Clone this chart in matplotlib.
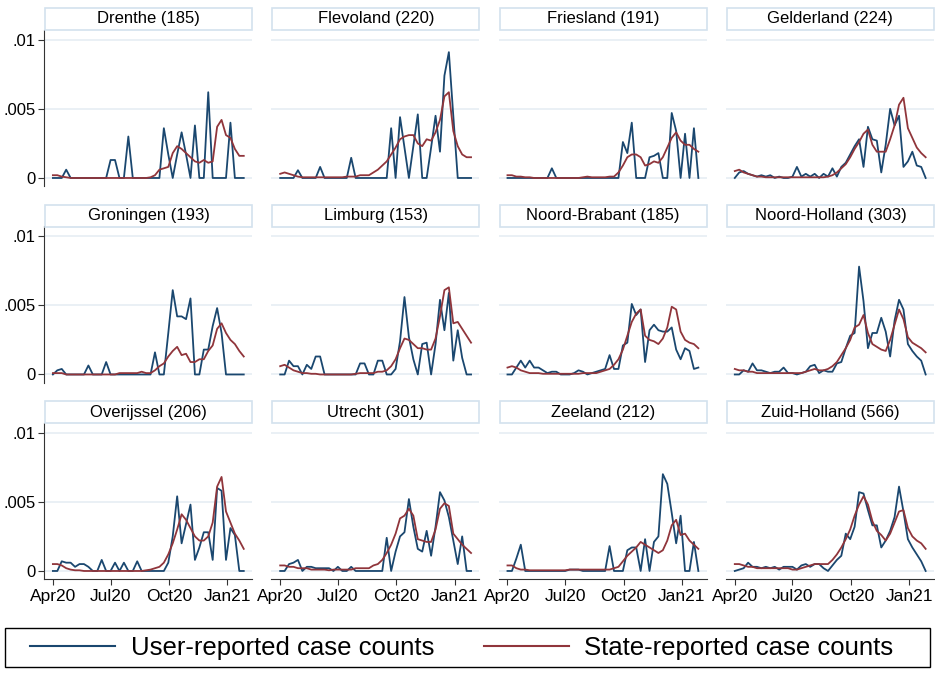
import numpy as np
import matplotlib
matplotlib.use("Agg")
import matplotlib.pyplot as plt
from matplotlib.lines import Line2D
from matplotlib.patches import Rectangle

plt.rcParams['font.family'] = ['Liberation Sans', 'DejaVu Sans']

# weekly observations, Apr 2020 - Jan 2021
weeks = np.arange(np.datetime64('2020-04-01'), np.datetime64('2020-04-01') + 44 * 7, 7)

provinces = ['Drenthe', 'Flevoland', 'Friesland', 'Gelderland',
             'Groningen', 'Limburg', 'Noord-Brabant', 'Noord-Holland',
             'Overijssel', 'Utrecht', 'Zeeland', 'Zuid-Holland']
n_users = [185, 220, 191, 224, 193, 153, 185, 303, 206, 301, 212, 566]

drenthe_user = [0, 0, 0, 0.0006, 0, 0, 0, 0, 0, 0, 0, 0, 0, 0.0013, 0.0013, 0, 0, 0.003, 0, 0,
                0, 0, 0, 0, 0, 0.0036, 0.0017, 0, 0.0017, 0.0033, 0.0017, 0, 0.0038, 0, 0, 0.0062,
                0, 0, 0, 0, 0.004, 0, 0, 0]
drenthe_state = [0.0002, 0.0002, 0.0001, 0.00005, 0, 0, 0, 0, 0, 0, 0, 0, 0, 0, 0, 0, 0, 0, 0, 0,
                 0, 0, 0.00005, 0.0002, 0.0006, 0.0007, 0.0008, 0.0018, 0.0023, 0.0021, 0.0018,
                 0.0015, 0.0012, 0.0011, 0.0013, 0.0011, 0.0012, 0.0037, 0.0042, 0.0031, 0.0029,
                 0.0021, 0.0016, 0.0016]

flevoland_user = [0, 0, 0, 0, 0.00056, 0, 0, 0, 0, 0.0008, 0, 0, 0, 0, 0, 0, 0.00146, 0, 0, 0,
                  0, 0, 0, 0, 0, 0.0036, 0, 0.0044, 0.0022, 0, 0.0023, 0.0046, 0, 0, 0.0022, 0.0045,
                  0.0019, 0.0074, 0.0091, 0.0045, 0, 0, 0, 0]
flevoland_state = [0.0003, 0.0004, 0.0003, 0.0002, 0.0001, 0.00005, 0.00005, 0.00005, 0.00005,
                   0.00005, 0.00005, 0.00005, 0.00005, 0.00005, 0.00005, 0.0001, 0.0001, 0.0001,
                   0.0002, 0.0002, 0.0002, 0.0004, 0.0006, 0.0009, 0.0012, 0.0017, 0.0022, 0.0028,
                   0.0030, 0.0031, 0.0031, 0.0025, 0.0023, 0.0028, 0.0027, 0.0033, 0.0042, 0.0059,
                   0.0062, 0.0034, 0.0023, 0.0017, 0.0015, 0.0015]

friesland_user = [0, 0, 0, 0, 0, 0, 0, 0, 0, 0, 0.0007, 0, 0, 0, 0, 0, 0, 0, 0, 0,
                  0, 0, 0, 0, 0, 0, 0.0026, 0.0018, 0.004, 0, 0, 0, 0.0015, 0.0016, 0.0018, 0,
                  0, 0.0047, 0.0034, 0, 0.0032, 0, 0.0036, 0]
friesland_state = [0.0002, 0.0002, 0.0001, 0.0001, 0.00005, 0.00005, 0, 0, 0, 0, 0, 0, 0, 0, 0,
                   0, 0, 0.00005, 0.0001, 0.00005, 0.00005, 0.00005, 0.00005, 0.0001, 0.0001,
                   0.0004, 0.0009, 0.0015, 0.0017, 0.0017, 0.0015, 0.0009, 0.0010, 0.0012, 0.0011,
                   0.0015, 0.0022, 0.0029, 0.0033, 0.0027, 0.0024, 0.0024, 0.0021, 0.0019]

gelderland_user = [0, 0.0004, 0.0005, 0.0003, 0.0002, 0.0001, 0.0002, 0.0001, 0.0002, 0, 0.0001,
                   0, 0, 0.0001, 0.0008, 0.0001, 0.0003, 0.0001, 0.0003, 0, 0.0003, 0.0001, 0.0007,
                   0.0001, 0.0008, 0.0011, 0.0017, 0.0023, 0.0028, 0.0008, 0.0037, 0.0028, 0.0027,
                   0.0004, 0.0024, 0.005, 0.0038, 0.0045, 0.0008, 0.0012, 0.0019, 0.0009, 0.0008, 0]
gelderland_state = [0.0005, 0.0006, 0.0004, 0.0003, 0.0002, 0.0001, 0.0001, 0.00005, 0.00005,
                    0.00005, 0.00005, 0.00005, 0.00005, 0.00005, 0.00005, 0.00005, 0.00005,
                    0.00005, 0.00005, 0.00005, 0.00005, 0.0001, 0.0002, 0.0004, 0.0007, 0.001,
                    0.0015, 0.0021, 0.0026, 0.0032, 0.0035, 0.0024, 0.0019, 0.0019, 0.0019, 0.0028,
                    0.0038, 0.0053, 0.0058, 0.0036, 0.0029, 0.0022, 0.0018, 0.0015]

groningen_user = [0, 0.0003, 0.0004, 0, 0, 0, 0, 0, 0.00065, 0, 0, 0, 0.0009, 0, 0, 0, 0, 0, 0, 0,
                  0, 0, 0, 0.0016, 0, 0, 0.003, 0.0061, 0.0042, 0.0042, 0.004, 0.0055, 0, 0,
                  0.0018, 0.0018, 0.0035, 0.0048, 0.003, 0, 0, 0, 0, 0]
groningen_state = [0.0001, 0.0001, 0.0001, 0, 0, 0, 0, 0, 0, 0, 0, 0, 0, 0, 0, 0.0001, 0.0001,
                   0.0001, 0.0001, 0.0001, 0.0002, 0.0001, 0.0001, 0.0003, 0.0006, 0.0008, 0.0013,
                   0.0017, 0.0020, 0.0014, 0.0015, 0.0009, 0.0009, 0.0011, 0.0011, 0.0017, 0.0021,
                   0.0033, 0.0037, 0.003, 0.0025, 0.0022, 0.0017, 0.0013]

limburg_user = [0, 0, 0.001, 0.0006, 0.0006, 0, 0.0007, 0.0004, 0.0013, 0.0013, 0, 0, 0, 0, 0, 0,
                0, 0, 0.0008, 0.0008, 0, 0, 0.001, 0.001, 0, 0, 0.0004, 0.0024, 0.0056, 0.0027,
                0.0011, 0, 0.0022, 0.0023, 0, 0.0022, 0.0054, 0.0032, 0.0059, 0.001, 0.0032,
                0.0012, 0, 0]
limburg_state = [0.0006, 0.0007, 0.0005, 0.0003, 0.0002, 0.0001, 0.0001, 0.00005, 0.00005, 0, 0,
                 0, 0, 0, 0, 0, 0, 0.00005, 0.0001, 0.0001, 0.0001, 0.0001, 0.0002, 0.0002, 0.0003,
                 0.0006, 0.0011, 0.0019, 0.0026, 0.0025, 0.0022, 0.0019, 0.0019, 0.0018, 0.0018,
                 0.0026, 0.0042, 0.0061, 0.0063, 0.0037, 0.0038, 0.0033, 0.0028, 0.0023]

noordbrabant_user = [0, 0, 0.0005, 0.001, 0.0005, 0.001, 0.0005, 0.0005, 0.0003, 0.0001, 0.0002,
                     0.0002, 0, 0, 0, 0.0001, 0.0003, 0.0002, 0, 0.0001, 0.0002, 0.0003, 0.0004,
                     0.0014, 0.0004, 0.0004, 0.0021, 0.0023, 0.0051, 0.0043, 0.0047, 0.0009,
                     0.0032, 0.0036, 0.0032, 0.0031, 0.0031, 0.0034, 0.0018, 0.0011, 0.0019,
                     0.0017, 0.0004, 0.0005]
noordbrabant_state = [0.0005, 0.0006, 0.0005, 0.0003, 0.0002, 0.0001, 0.0001, 0.0001, 0.00005,
                      0.00005, 0.00005, 0.00005, 0.00005, 0.00005, 0.00005, 0.00005, 0.00005,
                      0.0001, 0.0001, 0.0001, 0.0001, 0.0002, 0.0003, 0.0004, 0.0007, 0.0011,
                      0.0018, 0.0028, 0.0038, 0.0044, 0.0047, 0.0028, 0.0025, 0.0024, 0.0022,
                      0.0026, 0.0034, 0.0049, 0.0047, 0.0031, 0.0025, 0.0023, 0.0022, 0.0019]

noordholland_user = [0, 0, 0.0003, 0.0002, 0.0008, 0.0003, 0.0003, 0.0002, 0.0001, 0.0002, 0.0002,
                     0.0005, 0.0001, 0.0001, 0, 0.0001, 0.0002, 0.0006, 0.0007, 0.0001, 0.0003,
                     0.0002, 0.0002, 0.0008, 0.0009, 0.0019, 0.0028, 0.003, 0.0078, 0.0053, 0.0019,
                     0.003, 0.003, 0.0041, 0.0031, 0.0013, 0.0039, 0.0054, 0.0047, 0.0022, 0.0017,
                     0.0013, 0.001, 0]
noordholland_state = [0.0004, 0.0003, 0.0003, 0.0002, 0.0002, 0.0001, 0.0001, 0.0001, 0.0001,
                      0.0001, 0.0001, 0.0001, 0.0001, 0.0001, 0.0001, 0.0001, 0.0002, 0.0003,
                      0.0004, 0.0003, 0.0003, 0.0004, 0.0006, 0.0009, 0.0014, 0.0019, 0.0025,
                      0.0034, 0.0036, 0.0043, 0.0030, 0.0022, 0.0020, 0.0018, 0.0017, 0.0025,
                      0.0036, 0.0047, 0.0040, 0.0027, 0.0023, 0.0021, 0.0019, 0.0016]

overijssel_user = [0, 0, 0.0007, 0.0006, 0.0006, 0.0003, 0.0005, 0.0005, 0.0003, 0, 0, 0.0008, 0,
                   0, 0.0006, 0, 0.0006, 0, 0, 0.0007, 0, 0, 0, 0, 0, 0, 0.0006, 0.0025, 0.0054,
                   0.002, 0.0034, 0.0048, 0.0008, 0.0017, 0.0028, 0.0028, 0.0008, 0.006, 0.0058,
                   0.0008, 0.0031, 0.0026, 0, 0]
overijssel_state = [0.0005, 0.0005, 0.0004, 0.0002, 0.0001, 0.00005, 0.00005, 0, 0, 0, 0, 0, 0,
                    0, 0, 0, 0, 0, 0, 0, 0, 0.00005, 0.0001, 0.0002, 0.0003, 0.0006, 0.0012, 0.002,
                    0.003, 0.0041, 0.0037, 0.0031, 0.0025, 0.0022, 0.0022, 0.0025, 0.0035, 0.0061,
                    0.0068, 0.0043, 0.0035, 0.0027, 0.0022, 0.0016]

utrecht_user = [0, 0, 0.0005, 0.0006, 0.0008, 0, 0.0003, 0.0003, 0.0002, 0.0002, 0.0002, 0.0002,
                0, 0.0003, 0, 0, 0.0003, 0, 0, 0, 0, 0, 0, 0, 0.0024, 0, 0.0014, 0.0025, 0.0028,
                0.0052, 0.0032, 0.0016, 0.0014, 0.0029, 0.0011, 0.0032, 0.0057, 0.0051, 0.0039,
                0.0022, 0.0005, 0.0025, 0, 0]
utrecht_state = [0.0004, 0.0004, 0.0003, 0.0003, 0.0002, 0.0002, 0.0002, 0.0001, 0.0001, 0.0001,
                 0.0001, 0.00005, 0.0001, 0.0001, 0.0001, 0.0001, 0.0001, 0.0002, 0.0002, 0.0002,
                 0.0002, 0.0004, 0.0005, 0.0008, 0.0013, 0.0019, 0.0027, 0.0038, 0.0040, 0.0045,
                 0.0040, 0.0023, 0.0022, 0.0021, 0.0021, 0.0030, 0.0045, 0.0049, 0.0047, 0.0027,
                 0.0023, 0.0019, 0.0016, 0.0013]

zeeland_user = [0, 0, 0.0009, 0.0019, 0, 0, 0, 0, 0, 0, 0, 0, 0, 0, 0.0001, 0.0001, 0.0001, 0,
                0, 0, 0, 0, 0, 0.0018, 0, 0, 0, 0.0015, 0.0017, 0.0017, 0, 0.0023, 0, 0.0021,
                0.0025, 0.007, 0.0063, 0.0042, 0.002, 0.004, 0, 0, 0.0021, 0]
zeeland_state = [0.0004, 0.0004, 0.0002, 0.0001, 0.0001, 0.00005, 0.00005, 0.00005, 0.00005,
                 0.00005, 0.00005, 0.00005, 0.00005, 0.00005, 0.0001, 0.0001, 0.0001, 0.0001,
                 0.0001, 0.0001, 0.0001, 0.0001, 0.0001, 0.0001, 0.0002, 0.0003, 0.0007, 0.0011,
                 0.0014, 0.0017, 0.0021, 0.0019, 0.0017, 0.0015, 0.0013, 0.0015, 0.0022, 0.0033,
                 0.0037, 0.0026, 0.0027, 0.0022, 0.0019, 0.0016]

zuidholland_user = [0, 0.0001, 0.0002, 0.0006, 0.0003, 0.0003, 0.0002, 0.0003, 0.0002, 0.0003,
                    0.0001, 0.0003, 0.0003, 0.0003, 0.0001, 0.0004, 0.0005, 0.0003, 0.0005,
                    0.0005, 0.0002, 0, 0.0004, 0.0008, 0.0011, 0.0027, 0.0023, 0.0032, 0.0057,
                    0.0056, 0.0044, 0.0033, 0.0033, 0.0017, 0.0022, 0.0029, 0.0039, 0.0061,
                    0.0043, 0.0023, 0.0017, 0.0012, 0.0007, 0]
zuidholland_state = [0.0005, 0.0005, 0.0004, 0.0003, 0.0003, 0.0002, 0.0002, 0.0002, 0.0002,
                     0.0002, 0.0002, 0.0002, 0.0002, 0.0001, 0.0001, 0.0002, 0.0003, 0.0004,
                     0.0005, 0.0005, 0.0005, 0.0005, 0.0008, 0.0012, 0.0017, 0.0023, 0.0030,
                     0.0040, 0.0048, 0.0054, 0.0048, 0.0036, 0.0029, 0.0026, 0.0022, 0.0027,
                     0.0035, 0.0043, 0.0044, 0.0031, 0.0025, 0.0022, 0.0020, 0.0016]

user_series = [drenthe_user, flevoland_user, friesland_user, gelderland_user,
               groningen_user, limburg_user, noordbrabant_user, noordholland_user,
               overijssel_user, utrecht_user, zeeland_user, zuidholland_user]
state_series = [drenthe_state, flevoland_state, friesland_state, gelderland_state,
                groningen_state, limburg_state, noordbrabant_state, noordholland_state,
                overijssel_state, utrecht_state, zeeland_state, zuidholland_state]

tick_dates = np.array(['2020-04-01', '2020-07-01', '2020-10-01', '2021-01-01'], dtype='datetime64[D]')
tick_labels = ['Apr20', 'Jul20', 'Oct20', 'Jan21']

BLUE = '#1a476f'
RED = '#90353b'
GRID = '#e6edf3'
W, H = 935, 673

fig = plt.figure(figsize=(W / 100, H / 100), dpi=100)

for k, name in enumerate(provinces):
    r, c = divmod(k, 4)
    left = 44 + 227.3 * c
    top = 30 + 196.5 * r
    ax = fig.add_axes([left / W, 1 - (top + 156) / H, 208 / W, 156 / H])

    ax.plot(weeks, user_series[k], color=BLUE, lw=1.3, zorder=3)
    ax.plot(weeks, state_series[k], color=RED, lw=1.3, zorder=4)

    ax.set_ylim(-0.00058, 0.0107)
    ax.set_xlim(np.datetime64('2020-04-01') - 14, np.datetime64('2021-01-01') + 39)
    ax.set_yticks([0, 0.005, 0.01])
    ax.grid(axis='y', color=GRID, lw=1.2, zorder=0)
    ax.set_xticks(tick_dates)

    for s in ax.spines.values():
        s.set_visible(False)

    if c == 0:
        ax.spines['left'].set_visible(True)
        ax.spines['left'].set_color('#333333')
        ax.set_yticklabels(['0', '.005', '.01'], fontsize=12)
        ax.tick_params(axis='y', length=4, color='#333333', pad=2)
    else:
        ax.tick_params(axis='y', left=False, labelleft=False)

    if r == 2:
        ax.spines['bottom'].set_visible(True)
        ax.spines['bottom'].set_color('#333333')
        ax.set_xticklabels(tick_labels, fontsize=12.5)
        ax.tick_params(axis='x', length=4, color='#333333', pad=3)
    else:
        ax.tick_params(axis='x', bottom=False, labelbottom=False)

    # title box above panel
    bx0, bx1 = left + 1, left + 208
    by0, by1 = top - 22, top
    fig.patches.append(Rectangle((bx0 / W, 1 - by1 / H), (bx1 - bx0) / W, (by1 - by0) / H,
                                 transform=fig.transFigure, facecolor='white',
                                 edgecolor='#d3e2ee', lw=1.2))
    fig.text((bx0 + bx1) / 2 / W, 1 - (by0 + by1) / 2 / H, f'{name} ({n_users[k]})',
             ha='center', va='center', fontsize=12)

# legend box along the bottom
fig.patches.append(Rectangle((5 / W, 1 - 667 / H), 925 / W, 39 / H, transform=fig.transFigure,
                             facecolor='white', edgecolor='black', lw=1.0))
handles = [Line2D([], [], color=BLUE, lw=1.5), Line2D([], [], color=RED, lw=1.5)]
fig.legend(handles, ['User-reported case counts', 'State-reported case counts'],
           loc='center', bbox_to_anchor=(462 / W, 1 - 647.5 / H), ncol=2, fontsize=18.5,
           handlelength=3.3, handletextpad=0.6, columnspacing=1.95, frameon=False,
           borderpad=0)

fig.savefig('out.png', dpi=100)
